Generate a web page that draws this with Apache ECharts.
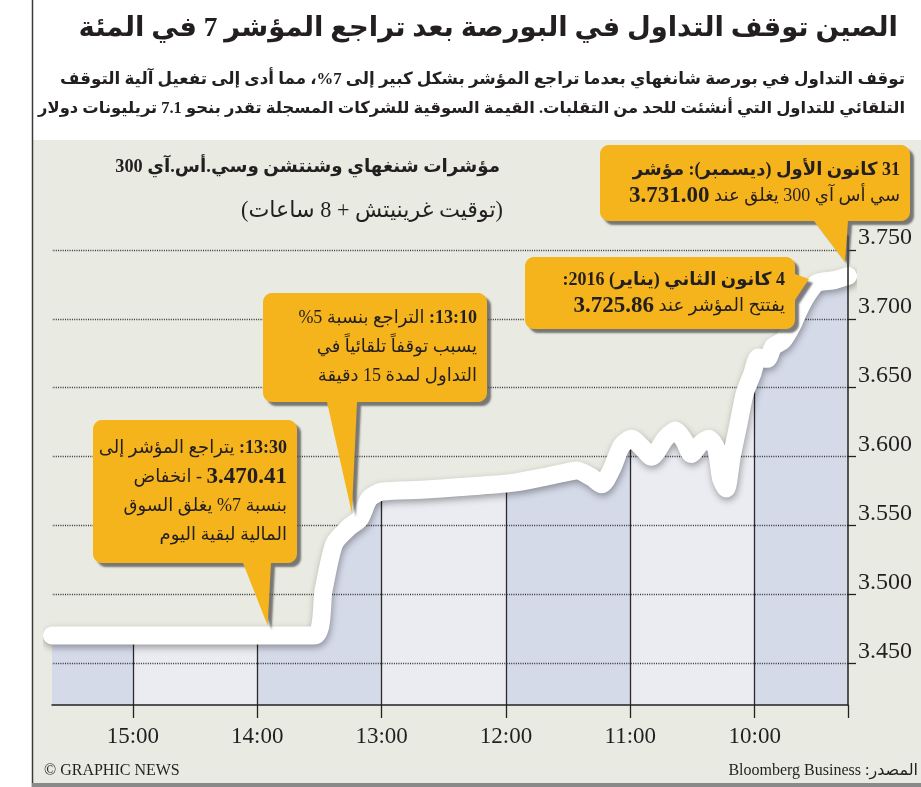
<!DOCTYPE html>
<html>
<head>
<meta charset="utf-8">
<script src="https://cdn.jsdelivr.net/npm/echarts@6/dist/echarts.min.js"></script>
<style>
html,body{margin:0;padding:0;background:#ffffff;}
#chart{width:921px;height:787px;direction:rtl;}
</style>
</head>
<body>
<div id="chart"></div>
<script>
// ---------------- DATA ----------------
// time of day in hours (Beijing time), CSI 300 index value
const times  = [9.25, 9.36, 9.50, 9.58, 9.646, 9.70, 9.775, 9.85, 9.90, 9.97,
                10.02, 10.08, 10.13, 10.185, 10.23, 10.27, 10.31, 10.37, 10.44, 10.51,
                10.57, 10.64, 10.72, 10.83, 10.91, 10.99, 11.07, 11.15, 11.23, 11.31,
                11.43, 11.55, 11.71, 11.95, 12.36, 12.68, 13.00, 13.10, 13.175, 13.26,
                13.38, 13.465, 13.545, 15.65];
const values = [3731.00, 3728, 3725.86, 3717, 3706, 3695, 3684, 3680, 3671, 3672,
                3660, 3646, 3624, 3600, 3577, 3584, 3606, 3613, 3609, 3602,
                3612, 3619, 3613, 3600, 3607, 3613, 3608, 3591, 3580, 3585,
                3590, 3588, 3585, 3581, 3578, 3576, 3574.6, 3569.6, 3555, 3549,
                3537, 3504, 3470.41, 3470.41];
const hourTicks   = [10, 11, 12, 13, 14, 15];
const hourLabels  = ['10:00', '11:00', '12:00', '13:00', '14:00', '15:00'];
const valueTicks  = [3450, 3500, 3550, 3600, 3650, 3700, 3750];
const valueLabels = ['3.450', '3.500', '3.550', '3.600', '3.650', '3.700', '3.750'];
// annotation anchor points [time, value]
const annTimes  = [9.25, 9.50, 13.175, 13.9];
const annValues = [3731.00, 3725.86, 3555, 3470.41];

// ---------------- TEXTS ----------------
const TITLE = 'الصين توقف التداول في البورصة بعد تراجع المؤشر 7 في المئة';
const SUB1 = 'توقف التداول في بورصة شانغهاي بعدما تراجع المؤشر بشكل كبير إلى 7%، مما أدى إلى تفعيل آلية التوقف';
const SUB2 = 'التلقائي للتداول التي أنشئت للحد من التقلبات. القيمة السوقية للشركات المسجلة تقدر بنحو 7.1 تريليونات دولار';
const CH_TITLE = 'مؤشرات شنغهاي وشنتشن وسي.أس.آي 300';
const CH_SUB = '(توقيت غرينيتش + 8 ساعات)';
const FOOT_L = '\u200E© GRAPHIC NEWS';
const FOOT_R = 'المصدر: Bloomberg Business';
const CALLOUT_TEXT = [
  '{h|31 كانون الأول (ديسمبر): مؤشر}\n{n|3.731.00}{r|سي أس آي 300 يغلق عند }',
  '{h|4 كانون الثاني (يناير) 2016:}\n{n|3.725.86}{r|يفتتح المؤشر عند }',
  '{r| التراجع بنسبة 5%}{h|13:10:}\n{r|يسبب توقفاً تلقائياً في}\n{r|التداول لمدة 15 دقيقة}',
  '{r| يتراجع المؤشر إلى}{h|13:30:}\n{r| - انخفاض}{n|3.470.41}\n{r|بنسبة 7% يغلق السوق}\n{r|المالية لبقية اليوم}'
];

// ---------------- STYLE / LAYOUT ----------------
const FONT_AR = "'Liberation Serif','DejaVu Sans',serif";
const INK = '#231f20';
const PANEL = '#e9ebe2';
const BAND_A = '#d5dae9';
const BAND_B = '#eaecf2';
const YELLOW = '#f5b31c';
const SMOOTH = 0.25;
const xMin = 9.25, xMax = 15.65, yMin = 3420, yMax = 3760;

const boxes = [
  {x: 600, y: 145, w: 310, h: 76, side: 'bottom', a: 814, b: 848, dx: -3, dy: -14, lh: 26},
  {x: 525, y: 257, w: 270, h: 72, side: 'right', a: 274, b: 300, dx: -8, dy: -4, lh: 26},
  {x: 263, y: 293, w: 224, h: 109, side: 'bottom', a: 327, b: 357, dx: -8, dy: -6, lh: 29},
  {x: 93, y: 420, w: 204, h: 143, side: 'bottom', a: 243, b: 271, dx: -2, dy: -10, lh: 29}
];

const mctx = document.createElement('canvas').getContext('2d');
function fitSize(text, weight, family, width) {
  mctx.font = weight + ' 100px ' + family;
  return 100 * width / mctx.measureText(text).width;
}

const chart = echarts.init(document.getElementById('chart'), null, {renderer: 'canvas', width: 921, height: 787});

const seriesData = times.map((t, i) => [t, values[i]]);
const bounds = [xMin].concat(hourTicks, [xMax]);
const bandData = [];
for (let i = 0; i < bounds.length - 1; i++) {
  bandData.push([{xAxis: bounds[i], itemStyle: {color: i % 2 === 0 ? BAND_A : BAND_B}}, {xAxis: bounds[i + 1]}]);
}

chart.setOption({
  animation: false,
  grid: {left: 52, right: 73, top: 236, bottom: 82, outerBoundsMode: 'none', containLabel: false},
  xAxis: {
    type: 'value', inverse: true, min: xMin, max: xMax, z: 6,
    axisLine: {show: true, lineStyle: {color: '#222', width: 1.5}},
    axisTick: {show: true, customValues: [xMin].concat(hourTicks), length: 13, lineStyle: {color: '#222', width: 1.3}},
    axisLabel: {
      customValues: hourTicks,
      formatter: v => { const i = hourTicks.indexOf(v); return i >= 0 ? hourLabels[i] : ''; },
      fontFamily: 'Liberation Serif', fontSize: 23, color: INK, margin: 20
    },
    splitLine: {show: false}
  },
  yAxis: {
    type: 'value', position: 'right', min: yMin, max: yMax, z: 6,
    axisLine: {show: true, lineStyle: {color: '#222', width: 1.5}},
    axisTick: {show: true, customValues: valueTicks, length: 8, lineStyle: {color: '#222', width: 1.3}},
    axisLabel: {
      customValues: valueTicks,
      formatter: v => { const i = valueTicks.indexOf(v); return i >= 0 ? valueLabels[i] : ''; },
      fontFamily: 'Liberation Serif', fontSize: 24, color: INK, margin: 10,
      verticalAlign: 'bottom', lineHeight: 24
    },
    splitLine: {show: false}
  },
  series: [
    {
      type: 'line', name: 'bands', data: seriesData, z: 1, symbol: 'none', silent: true,
      lineStyle: {opacity: 0},
      markArea: {silent: true, z: 1, data: bandData},
      markLine: {
        silent: true, z: 2, symbol: 'none', label: {show: false},
        lineStyle: {color: '#2b2b2b', width: 1.3, type: 'solid'},
        data: hourTicks.map(h => ({xAxis: h}))
      }
    },
    {
      type: 'line', name: 'cover', data: seriesData, z: 3, symbol: 'none', silent: true, smooth: SMOOTH,
      lineStyle: {width: 0},
      areaStyle: {origin: 'end', color: PANEL, opacity: 1}
    },
    {
      type: 'line', name: 'dots', data: seriesData, z: 4, symbol: 'none', silent: true,
      lineStyle: {opacity: 0},
      markLine: {
        silent: true, z: 4, symbol: 'none', label: {show: false},
        lineStyle: {color: '#333333', width: 1.3, type: [1, 1.3]},
        data: valueTicks.map(v => ({yAxis: v}))
      }
    },
    {
      type: 'line', name: 'CSI 300', data: seriesData, z: 5, symbol: 'none', smooth: SMOOTH,
      lineStyle: {
        color: '#ffffff', width: 18, cap: 'round', join: 'round',
        shadowColor: 'rgba(0,0,0,0.35)', shadowBlur: 7, shadowOffsetX: 1, shadowOffsetY: 3
      }
    }
  ]
});

// ---------------- GRAPHICS ----------------
function calloutPoints(b, tip) {
  const r = 9, pts = [];
  const arc = (cx, cy, a0, a1) => {
    for (let k = 0; k <= 6; k++) {
      const a = (a0 + (a1 - a0) * k / 6) * Math.PI / 180;
      pts.push([cx + r * Math.cos(a), cy + r * Math.sin(a)]);
    }
  };
  const x = b.x, y = b.y, w = b.w, h = b.h;
  arc(x + r, y + r, 180, 270);
  arc(x + w - r, y + r, 270, 360);
  if (b.side === 'right') { pts.push([x + w, b.a], tip, [x + w, b.b]); }
  arc(x + w - r, y + h - r, 0, 90);
  if (b.side === 'bottom') { pts.push([b.b, y + h], tip, [b.a, y + h]); }
  arc(x + r, y + h - r, 90, 180);
  return pts;
}

const titleSize = fitSize(TITLE, 'bold', FONT_AR, 820);
const sub1Size = fitSize(SUB1, 'bold', FONT_AR, 845);
const sub2Size = fitSize(SUB2, 'bold', FONT_AR, 868);
const chTitleSize = fitSize(CH_TITLE, 'bold', FONT_AR, 385);
const chSubSize = fitSize(CH_SUB, 'normal', FONT_AR, 262);

const graphics = [
  {type: 'rect', id: 'panel', z: -10, silent: true, shape: {x: 33, y: 140, width: 888, height: 643}, style: {fill: PANEL}},
  {type: 'line', id: 'frameL', z: -9, silent: true, shape: {x1: 32.5, y1: 0, x2: 32.5, y2: 787}, style: {stroke: '#3a3a3a', lineWidth: 1.5}},
  {type: 'rect', id: 'frameB', z: -9, silent: true, shape: {x: 32, y: 783, width: 889, height: 4}, style: {fill: '#8a8a8a'}},
  {type: 'text', id: 'title', z: 20, x: 898, y: 29, style: {text: TITLE, fill: INK, fontFamily: FONT_AR, fontWeight: 'bold', fontSize: titleSize, align: 'right', verticalAlign: 'middle'}},
  {type: 'text', id: 'sub1', z: 20, x: 905, y: 80, style: {text: SUB1, fill: INK, fontFamily: FONT_AR, fontWeight: 'bold', fontSize: sub1Size, align: 'right', verticalAlign: 'middle'}},
  {type: 'text', id: 'sub2', z: 20, x: 905, y: 109, style: {text: SUB2, fill: INK, fontFamily: FONT_AR, fontWeight: 'bold', fontSize: sub2Size, align: 'right', verticalAlign: 'middle'}},
  {type: 'text', id: 'chTitle', z: 20, x: 500, y: 167, style: {text: CH_TITLE, fill: INK, fontFamily: FONT_AR, fontWeight: 'bold', fontSize: chTitleSize, align: 'right', verticalAlign: 'middle'}},
  {type: 'text', id: 'chSub', z: 20, x: 503, y: 211, style: {text: CH_SUB, fill: INK, fontFamily: FONT_AR, fontWeight: 'normal', fontSize: chSubSize, align: 'right', verticalAlign: 'middle'}},
  {type: 'text', id: 'footL', z: 20, x: 44, y: 771, style: {text: FOOT_L, fill: INK, fontFamily: 'Liberation Serif', fontSize: 16, align: 'left', verticalAlign: 'middle'}},
  {type: 'text', id: 'footR', z: 20, x: 918, y: 771, style: {text: FOOT_R, fill: INK, fontFamily: FONT_AR, fontSize: 16, align: 'right', verticalAlign: 'middle'}}
];

boxes.forEach((b, i) => {
  const p = chart.convertToPixel({gridIndex: 0}, [annTimes[i], annValues[i]]);
  const tip = [p[0] + b.dx, p[1] + b.dy];
  graphics.push({
    type: 'polygon', id: 'box' + i, z: 50, silent: true,
    shape: {points: calloutPoints(b, tip)},
    style: {fill: YELLOW, shadowColor: 'rgba(80,80,80,0.75)', shadowBlur: 2, shadowOffsetX: 4, shadowOffsetY: 4}
  });
  graphics.push({
    type: 'text', id: 'boxText' + i, z: 51, silent: true,
    x: b.x + b.w - 10, y: b.y + b.h / 2,
    style: {
      text: CALLOUT_TEXT[i], align: 'right', verticalAlign: 'middle', fill: INK,
      fontFamily: FONT_AR, fontSize: 18,
      rich: {
        h: {fontFamily: FONT_AR, fontWeight: 'bold', fontSize: 18, lineHeight: b.lh, fill: INK},
        r: {fontFamily: FONT_AR, fontWeight: 'normal', fontSize: 18, lineHeight: b.lh, fill: INK},
        n: {fontFamily: 'Liberation Serif', fontWeight: 'bold', fontSize: 23, lineHeight: b.lh, fill: INK}
      }
    }
  });
});

chart.setOption({graphic: graphics});
</script>
</body>
</html>
